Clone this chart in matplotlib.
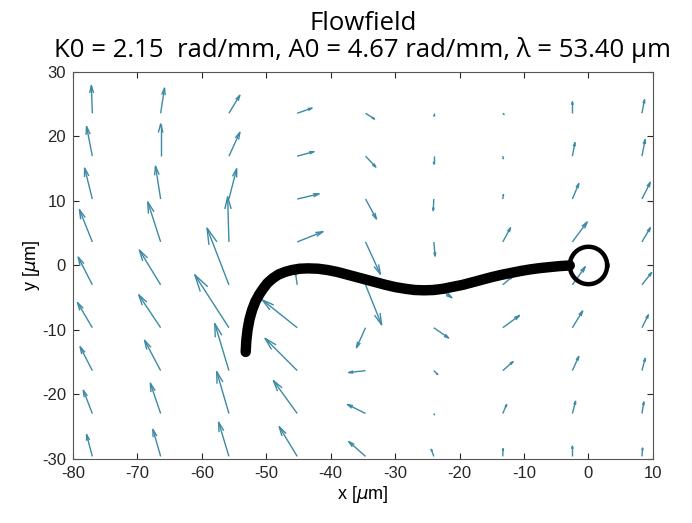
import numpy as np
import matplotlib.pyplot as plt
from matplotlib.collections import LineCollection

plt.rcParams['axes.unicode_minus'] = False

# quiver grid (tail positions, um)
grid_x = [-77.0, -66.4, -55.8, -45.2, -34.6, -24.0, -13.3, -2.5, 8.3]
grid_y = [-29.6, -22.95, -16.3, -9.65, -3.0, 3.65, 10.3, 16.95, 23.6]

# velocity components, one list per column, rows bottom -> top
u_cols = [
    [-0.9, -1.4, -1.9, -2.3, -2.2, -2.0, -1.2, -0.9, -0.15],
    [-1.2, -1.6, -2.5, -3.4, -3.3, -2.0, -0.8, 0.0, 0.6],
    [-1.6, -1.9, -2.2, -5.3, -3.4, -0.2, 1.2, 1.7, 1.7],
    [-2.8, -3.7, -5.0, -5.4, -0.3, 4.0, 3.4, 2.6, 2.3],
    [-2.6, -2.8, -2.6, -1.4, 2.5, 2.3, 1.7, 1.6, 1.4],
    [-0.4, 0.1, 0.6, 2.3, 2.8, 0.2, -0.1, 0.0, 0.0],
    [0.05, 0.6, 1.6, 2.6, 1.5, 1.2, 0.1, 0.1, 0.2],
    [0.0, 0.5, 1.0, 1.6, 2.0, 2.3, 1.0, 0.4, 0.0],
    [0.1, 0.3, 0.5, 1.0, 1.5, 1.3, 1.3, 0.5, 0.4],
]
v_cols = [
    [3.4, 3.6, 3.7, 3.9, 4.3, 5.0, 4.8, 4.6, 4.3],
    [4.2, 4.7, 4.7, 5.1, 5.4, 6.2, 5.1, 5.0, 3.9],
    [5.3, 6.5, 7.3, 8.2, 8.8, 7.0, 4.7, 3.7, 2.8],
    [4.6, 5.1, 5.0, 4.3, 2.0, 1.6, 0.8, 0.7, 0.8],
    [2.3, 1.4, -0.3, -3.1, -6.2, -5.0, -3.1, -1.7, -0.9],
    [1.1, -0.2, -0.6, -1.6, -2.0, -2.2, -1.8, -1.2, -0.4],
    [1.2, 1.4, 1.4, 1.9, 1.3, 2.2, 0.7, -0.4, -0.2],
    [1.6, 1.9, 2.2, 2.6, 2.8, 3.1, 2.4, 2.1, 1.8],
    [1.3, 1.8, 1.9, 2.0, 1.9, 2.2, 2.6, 2.6, 2.1],
]

# flagellum centreline
flag_x = [-53.2, -53.1, -52.9, -52.6, -52.2, -51.7, -51.1, -50.5, -49.8, -49.0,
          -48.1, -47.1, -46.0, -44.8, -43.5, -42.0, -40.5, -39.0, -37.5, -36.0,
          -34.5, -33.0, -31.5, -30.0, -28.5, -27.0, -25.5, -24.0, -22.5, -21.0,
          -19.5, -18.0, -16.5, -15.0, -13.5, -12.0, -10.5, -9.0, -7.5, -6.0,
          -4.5, -2.9]
flag_y = [-13.4, -11.6, -9.9, -8.3, -6.9, -5.6, -4.5, -3.6, -2.7, -2.0,
          -1.4, -1.0, -0.7, -0.5, -0.45, -0.5, -0.7, -1.0, -1.4, -1.8,
          -2.2, -2.6, -3.0, -3.35, -3.6, -3.8, -3.85, -3.8, -3.6, -3.3,
          -3.0, -2.6, -2.2, -1.8, -1.45, -1.15, -0.85, -0.6, -0.4, -0.25,
          -0.1, 0.0]
head_x, head_y, head_r = 0.0, 0.0, 2.9

X, Y = np.meshgrid(grid_x, grid_y, indexing='ij')
U = np.array(u_cols)
V = np.array(v_cols)

fig = plt.figure(figsize=(6.92, 5.23), dpi=100)
ax = fig.add_axes([0.1055, 0.1224, 0.838, 0.74])

# MATLAB-style open arrows: shaft plus two barbs
alpha, beta = 0.27, 0.26
x0, y0 = X.ravel(), Y.ravel()
x1, y1 = x0 + U.ravel(), y0 + V.ravel()
u, v = U.ravel(), V.ravel()
segs = []
for i in range(len(x0)):
    segs.append([(x0[i], y0[i]), (x1[i], y1[i])])
    segs.append([(x1[i] - alpha * (u[i] + beta * v[i]), y1[i] - alpha * (v[i] - beta * u[i])),
                 (x1[i], y1[i]),
                 (x1[i] - alpha * (u[i] - beta * v[i]), y1[i] - alpha * (v[i] + beta * u[i]))])
ax.add_collection(LineCollection(segs, colors='#3d8aa5', linewidths=1.0, zorder=1))

ax.plot(flag_x, flag_y, color='black', lw=7.5, solid_capstyle='round', zorder=3)
t = np.linspace(0, 2 * np.pi, 200)
ax.plot(head_x + head_r * np.cos(t), head_y + head_r * np.sin(t),
        color='black', lw=3.2, zorder=3)

ax.set_xlim(-80, 10)
ax.set_ylim(-30, 30)
ax.set_xticks(range(-80, 11, 10))
ax.set_yticks(range(-30, 31, 10))
ax.tick_params(direction='in', top=True, right=True, length=4, pad=5,
               labelsize=12, colors='#262626')
for lab in ax.get_xticklabels() + ax.get_yticklabels():
    lab.set_family('Liberation Sans')
for s in ax.spines.values():
    s.set_color('#555555')
    s.set_linewidth(0.8)

ax.set_xlabel(r'x [$\mu$m]', fontsize=13, family='Liberation Sans', labelpad=2)
ax.set_ylabel(r'y [$\mu$m]', fontsize=13, family='Liberation Sans', labelpad=0)
ax.set_title('Flowfield\nK0 = 2.15  rad/mm, A0 = 4.67 rad/mm, \u03bb = 53.40 \u03bcm',
             fontsize=18.5, family='Open Sans', linespacing=1.05, pad=11)

fig.savefig('out.png', dpi=100)
